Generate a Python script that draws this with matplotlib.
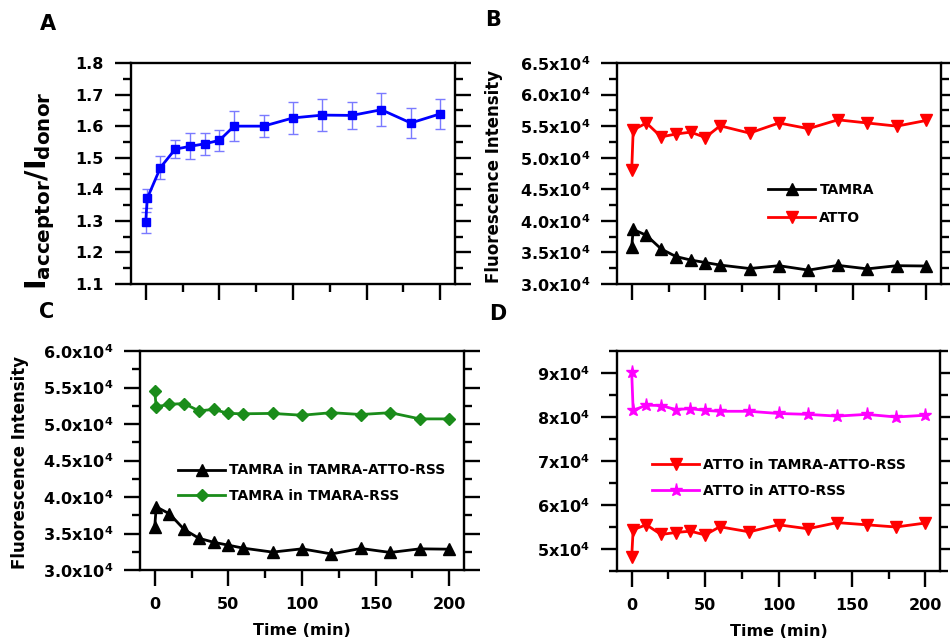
import matplotlib
matplotlib.use('Agg')
import matplotlib.pyplot as plt
from matplotlib.ticker import MultipleLocator, FuncFormatter

plt.rcParams['font.family'] = 'DejaVu Sans'
plt.rcParams['font.weight'] = 'bold'
plt.rcParams['mathtext.default'] = 'bf'

# time points (min)
time = [0, 1, 10, 20, 30, 40, 50, 60, 80, 100, 120, 140, 160, 180, 200]

# panel A: acceptor/donor ratio with error bars
ratio = [1.295, 1.371, 1.469, 1.527, 1.536, 1.544, 1.555, 1.600, 1.600,
         1.626, 1.635, 1.634, 1.652, 1.610, 1.639]
ratio_err = [0.033, 0.029, 0.035, 0.028, 0.041, 0.035, 0.034, 0.047, 0.034,
             0.050, 0.051, 0.044, 0.053, 0.049, 0.047]

# panel B / C / D intensities
tamra = [3.59e4, 3.865e4, 3.77e4, 3.555e4, 3.435e4, 3.38e4, 3.34e4, 3.30e4,
         3.245e4, 3.29e4, 3.22e4, 3.295e4, 3.24e4, 3.29e4, 3.285e4]
atto = [4.81e4, 5.44e4, 5.55e4, 5.33e4, 5.375e4, 5.405e4, 5.32e4, 5.505e4,
        5.39e4, 5.55e4, 5.46e4, 5.60e4, 5.55e4, 5.50e4, 5.59e4]
tamra_only = [5.45e4, 5.235e4, 5.27e4, 5.28e4, 5.18e4, 5.20e4, 5.145e4, 5.14e4,
              5.145e4, 5.12e4, 5.155e4, 5.13e4, 5.155e4, 5.07e4, 5.07e4]
atto_only = [9.02e4, 8.15e4, 8.27e4, 8.26e4, 8.17e4, 8.19e4, 8.15e4, 8.13e4,
             8.13e4, 8.08e4, 8.06e4, 8.02e4, 8.06e4, 8.00e4, 8.04e4]

W, H = 950, 642
fig = plt.figure(figsize=(9.5, 6.42), dpi=100)


def box(l, t, r, b):
    return [l / W, 1 - b / H, (r - l) / W, (b - t) / H]


axA = fig.add_axes(box(131, 63, 455, 284))
axB = fig.add_axes(box(617, 63, 941, 284))
axC = fig.add_axes(box(140, 351, 464, 570))
axD = fig.add_axes(box(617, 351, 940, 571))


def style(ax, xlabels):
    for s in ax.spines.values():
        s.set_linewidth(1.7)
    ax.set_xlim(-10, 210)
    ax.xaxis.set_major_locator(MultipleLocator(50))
    ax.xaxis.set_minor_locator(MultipleLocator(25))
    ax.tick_params(which='both', direction='out', width=1.7, top=False,
                   right=True, labelright=False, labelsize=11.5)
    ax.tick_params(which='major', length=11.5, pad=8)
    ax.tick_params(which='minor', length=6)
    ax.tick_params(axis='x', labelbottom=xlabels)
    if xlabels:
        ax.set_xlabel('Time (min)', fontsize=11.5, fontweight='bold', labelpad=8)


def sci(dec):
    def f(v, pos):
        return '$%.*fx10^{4}$' % (dec, v / 1e4)
    return FuncFormatter(f)


# A
axA.errorbar(time, ratio, yerr=ratio_err, fmt='none', ecolor='#7a7aff',
             elinewidth=1, capsize=3.5, capthick=1, zorder=2)
axA.plot(time, ratio, '-s', color='#0000ff', lw=2, ms=6, zorder=3)
axA.set_ylim(1.1, 1.8)
axA.yaxis.set_major_locator(MultipleLocator(0.1))
axA.yaxis.set_minor_locator(MultipleLocator(0.05))
style(axA, False)
fig.text(40 / W, 1 - 191 / H, r'$I_{acceptor}/I_{donor}$', rotation=90,
         ha='center', va='center', fontsize=20.5)

# B
axB.plot(time, tamra, '-^', color='black', lw=2, ms=8.5, label='TAMRA')
axB.plot(time, atto, '-v', color='#ff0000', lw=2, ms=8.5, label='ATTO')
axB.set_ylim(3.0e4, 6.5e4)
axB.yaxis.set_major_locator(MultipleLocator(5000))
axB.yaxis.set_minor_locator(MultipleLocator(2500))
axB.yaxis.set_major_formatter(sci(1))
style(axB, False)
axB.legend(loc='center left', bbox_to_anchor=(768 / W, 1 - 204 / H),
           bbox_transform=fig.transFigure, frameon=False, fontsize=10,
           handlelength=3.4, handletextpad=0.3, labelspacing=1.05,
           borderpad=0, borderaxespad=0)
fig.text(494 / W, 1 - 176 / H, 'Fluorescence Intensity', rotation=90,
         ha='center', va='center', fontsize=12)

# C
axC.plot(time, tamra, '-^', color='black', lw=2, ms=8.5,
         label='TAMRA in TAMRA-ATTO-RSS')
axC.plot(time, tamra_only, '-D', color='#1a8c1a', lw=2, ms=6.5,
         label='TAMRA in TMARA-RSS')
axC.set_ylim(3.0e4, 6.0e4)
axC.yaxis.set_major_locator(MultipleLocator(5000))
axC.yaxis.set_minor_locator(MultipleLocator(2500))
axC.yaxis.set_major_formatter(sci(1))
style(axC, True)
axC.legend(loc='center left', bbox_to_anchor=(178 / W, 1 - 483 / H),
           bbox_transform=fig.transFigure, frameon=False, fontsize=10,
           handlelength=3.4, handletextpad=0.3, labelspacing=0.8,
           borderpad=0, borderaxespad=0)
fig.text(20 / W, 1 - 462 / H, 'Fluorescence Intensity', rotation=90,
         ha='center', va='center', fontsize=12)

# D
axD.plot(time, atto, '-v', color='#ff0000', lw=2, ms=8.5,
         label='ATTO in TAMRA-ATTO-RSS')
axD.plot(time, atto_only, '-*', color='#ff00ff', lw=2, ms=9.5,
         label='ATTO in ATTO-RSS')
axD.set_ylim(4.5e4, 9.5e4)
axD.yaxis.set_major_locator(MultipleLocator(10000))
axD.yaxis.set_minor_locator(MultipleLocator(5000))
axD.yaxis.set_major_formatter(sci(0))
style(axD, True)
axD.legend(loc='center left', bbox_to_anchor=(652 / W, 1 - 478 / H),
           bbox_transform=fig.transFigure, frameon=False, fontsize=10,
           handlelength=3.4, handletextpad=0.3, labelspacing=0.85,
           borderpad=0, borderaxespad=0)

for lab, x, y in [('A', 48, 24), ('B', 493, 20), ('C', 47, 312), ('D', 498, 314)]:
    fig.text(x / W, 1 - y / H, lab, ha='center', va='center',
             fontsize=15, fontweight='bold')

fig.savefig('out.png', dpi=100)
